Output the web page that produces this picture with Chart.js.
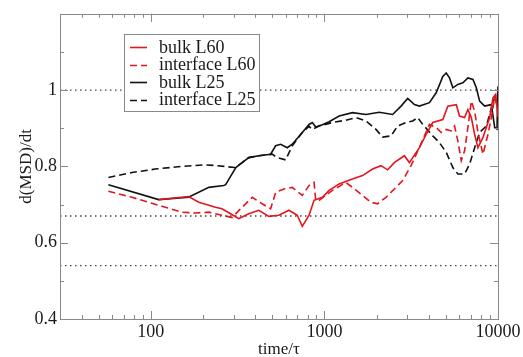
<!DOCTYPE html>
<html><head><meta charset="utf-8">
<script src="https://cdn.jsdelivr.net/npm/chart.js@4.4.1/dist/chart.umd.min.js"></script>
<style>html,body{margin:0;padding:0;background:#fff;overflow:hidden}#wrap{width:523px;height:357px}</style>
</head><body><div id="wrap"><canvas id="c" width="523" height="357"></canvas></div>
<script>
const xTickValues = [100, 1000, 10000];
const yTickValues = [0.4, 0.6, 0.8, 1.0];
const refLevels = [1.0, 0.67, 0.54];
const seriesLabels = ['bulk L60', 'interface L60', 'bulk L25', 'interface L25'];

const bulkL60_t = [111,165,189,236,257,288,321,367,419,479,547,625,698,746,816,872,974,1065,1216,1451,1658,1895,2118,2313,2528,2888,3088,3527,3856,4211,4810,5140,5748,6005,6420,6708,7020,7335,7665,8192,8951,9357,9700,10000];
const bulkL60_v = [0.713,0.721,0.706,0.693,0.689,0.676,0.663,0.676,0.685,0.669,0.672,0.685,0.672,0.643,0.672,0.711,0.719,0.737,0.754,0.767,0.776,0.793,0.802,0.791,0.810,0.828,0.810,0.849,0.884,0.915,0.923,0.958,0.962,0.932,0.928,0.949,0.928,0.884,0.849,0.876,0.928,0.980,0.989,0.93];

const interfaceL60_t = [57,78,97,121,151,181,216,257,294,336,384,438,490,524,585,653,746,816,872,892,932,1112,1330,1451,1658,1855,2025,2264,2586,2824,3158,3527,4029,4405,4710,5030,5378,5620,5872,6143,6420,6708,7020,7335,7665,8192,8756,9158,9570,10000];
const interfaceL60_v = [0.735,0.719,0.706,0.693,0.680,0.678,0.680,0.672,0.666,0.693,0.719,0.702,0.689,0.732,0.741,0.745,0.724,0.750,0.758,0.711,0.711,0.737,0.758,0.745,0.724,0.706,0.702,0.719,0.745,0.763,0.802,0.850,0.910,0.902,0.889,0.897,0.893,0.906,0.867,0.815,0.841,0.902,0.971,0.945,0.889,0.832,0.884,0.928,0.980,0.95];

const bulkL25_t = [57,111,165,216,263,270,309,336,367,419,490,524,560,611,653,746,816,852,892,974,1065,1216,1451,1735,2071,2472,2764,3018,3300,3527,4029,4405,4810,5030,5257,5494,5872,6276,6708,7172,7503,7836,8379,9158,9570,9868,10000];
const bulkL25_v = [0.752,0.713,0.719,0.745,0.750,0.752,0.797,0.810,0.823,0.828,0.832,0.854,0.858,0.849,0.858,0.889,0.910,0.915,0.903,0.909,0.917,0.932,0.941,0.936,0.942,0.936,0.958,0.978,0.962,0.958,0.967,0.993,1.036,1.045,1.032,1.006,1.015,1.019,1.032,1.028,1.006,0.971,0.958,0.962,0.902,0.898,1.01];

const interfaceL25_t = [57,78,106,151,206,241,305,336,367,419,500,535,598,653,746,816,852,932,1112,1330,1519,1735,1982,2164,2420,2642,2954,3227,3448,3686,4211,4602,5030,5494,5872,6420,6860,7335,7836,8570,9158,9570,9868];
const interfaceL25_v = [0.771,0.784,0.793,0.800,0.804,0.802,0.797,0.810,0.823,0.828,0.832,0.823,0.817,0.854,0.889,0.905,0.897,0.906,0.915,0.921,0.928,0.919,0.897,0.877,0.880,0.906,0.915,0.919,0.928,0.910,0.880,0.862,0.837,0.797,0.780,0.780,0.806,0.849,0.889,0.906,0.953,0.980,0.993];

const X_MIN = 30, X_MAX = 10000, Y_MIN = 0.4, Y_MAX = 1.2;
const RED = '#e3161d', BLACK = '#111111', TXT = '#1a1a1a', FRAME = '#8a8a8a';
const FONT = '"Liberation Serif", "Times New Roman", serif';

const pts = (t, v) => t.map((x, i) => ({x, y: v[i]}));

const series = [
  {label: seriesLabels[0], data: pts(bulkL60_t, bulkL60_v), borderColor: RED, borderDash: [], order: 1},
  {label: seriesLabels[1], data: pts(interfaceL60_t, interfaceL60_v), borderColor: RED, borderDash: [7, 4], order: 2},
  {label: seriesLabels[2], data: pts(bulkL25_t, bulkL25_v), borderColor: BLACK, borderDash: [], order: 3},
  {label: seriesLabels[3], data: pts(interfaceL25_t, interfaceL25_v), borderColor: BLACK, borderDash: [7, 4], order: 4}
].map(d => Object.assign(d, {borderWidth: 1.6, pointRadius: 0, tension: 0, fill: false, isSeries: true}));

const refs = refLevels.map(l => ({
  label: 'ref', data: [{x: X_MIN, y: l}, {x: X_MAX, y: l}], borderColor: '#444', borderWidth: 1.3,
  borderDash: [1.5, 3.5], pointRadius: 0, fill: false, order: 10, isSeries: false
}));

const frameTicks = {
  id: 'frameTicks',
  afterDatasetsDraw(chart) {
    const {ctx, chartArea: a, scales: {x, y}} = chart;
    ctx.save();
    ctx.strokeStyle = FRAME; ctx.lineWidth = 1;
    ctx.strokeRect(Math.round(a.left) + 0.5, Math.round(a.top) + 0.5, Math.round(a.right - a.left), Math.round(a.bottom - a.top));
    ctx.beginPath();
    const xt = [];
    [10, 100, 1000].forEach(d => { for (let k = 1; k <= 10; k++) { const v = k * d; if (v >= X_MIN && v <= X_MAX) xt.push([v, k === 1 || k === 10]); } });
    xt.forEach(([v, major]) => {
      const p = Math.round(x.getPixelForValue(v)) + 0.5, L = major ? 8 : 4;
      ctx.moveTo(p, a.bottom); ctx.lineTo(p, a.bottom - L);
      ctx.moveTo(p, a.top); ctx.lineTo(p, a.top + L);
    });
    for (let v = 0.4; v <= 1.2001; v += 0.1) {
      const major = Math.round(v * 10) % 2 === 0;
      const p = Math.round(y.getPixelForValue(v)) + 0.5, L = major ? 8 : 4;
      ctx.moveTo(a.left, p); ctx.lineTo(a.left + L, p);
      ctx.moveTo(a.right, p); ctx.lineTo(a.right - L, p);
    }
    ctx.stroke();
    ctx.restore();
  }
};

const boxLegend = {
  id: 'boxLegend',
  afterDatasetsDraw(chart) {
    const {ctx, chartArea: a} = chart;
    const bx = a.left + 64, by = a.top + 20, bw = 135, bh = 77;
    ctx.save();
    ctx.fillStyle = '#fff'; ctx.fillRect(bx, by, bw, bh);
    ctx.strokeStyle = FRAME; ctx.lineWidth = 1;
    ctx.strokeRect(Math.round(bx) + 0.5, Math.round(by) + 0.5, bw, bh);
    const ds = chart.data.datasets.filter(d => d.isSeries);
    ds.forEach((d, i) => {
      const yy = by + 13.5 + i * 17.4;
      ctx.strokeStyle = d.borderColor; ctx.lineWidth = 1.6; ctx.setLineDash(d.borderDash || []);
      ctx.beginPath(); ctx.moveTo(bx + 6, Math.round(yy) + 0.5); ctx.lineTo(bx + 23, Math.round(yy) + 0.5); ctx.stroke();
      ctx.setLineDash([]);
      ctx.fillStyle = TXT; ctx.font = '18px ' + FONT; ctx.textBaseline = 'middle'; ctx.textAlign = 'left';
      ctx.fillText(d.label, bx + 35, yy + 1);
    });
    ctx.restore();
  }
};

new Chart(document.getElementById('c'), {
  type: 'line',
  data: {datasets: [...series, ...refs]},
  options: {
    responsive: false, animation: false, devicePixelRatio: 1,
    layout: {padding: {top: 13, right: 25, left: 0, bottom: 0}},
    plugins: {legend: {display: false}, tooltip: {enabled: false}},
    scales: {
      x: {
        type: 'logarithmic', min: X_MIN, max: X_MAX, position: 'bottom',
        grid: {display: false, drawTicks: false}, border: {display: false},
        afterBuildTicks: s => { s.ticks = xTickValues.map(v => ({value: v})); },
        ticks: {autoSkip: false, maxRotation: 0, padding: 2, color: TXT, font: {family: FONT, size: 18},
          callback: v => String(v)},
        title: {display: true, text: 'time/τ', color: TXT, font: {family: FONT, size: 17, lineHeight: 0.9}, padding: {top: 0, bottom: 0}},
        afterFit: s => { s.height = 38; }
      },
      y: {
        type: 'linear', min: Y_MIN, max: Y_MAX, position: 'left',
        grid: {display: false, drawTicks: false}, border: {display: false},
        afterBuildTicks: s => { s.ticks = yTickValues.map(v => ({value: v})); },
        ticks: {padding: 3, color: TXT, font: {family: FONT, size: 18},
          callback: v => String(+Number(v).toFixed(1))},
        title: {display: true, text: 'd(MSD)/dt', color: TXT, font: {family: FONT, size: 17}, padding: {top: 16, bottom: 0}},
        afterFit: s => { s.width = 60; }
      }
    }
  },
  plugins: [frameTicks, boxLegend]
});
</script>
</body></html>
